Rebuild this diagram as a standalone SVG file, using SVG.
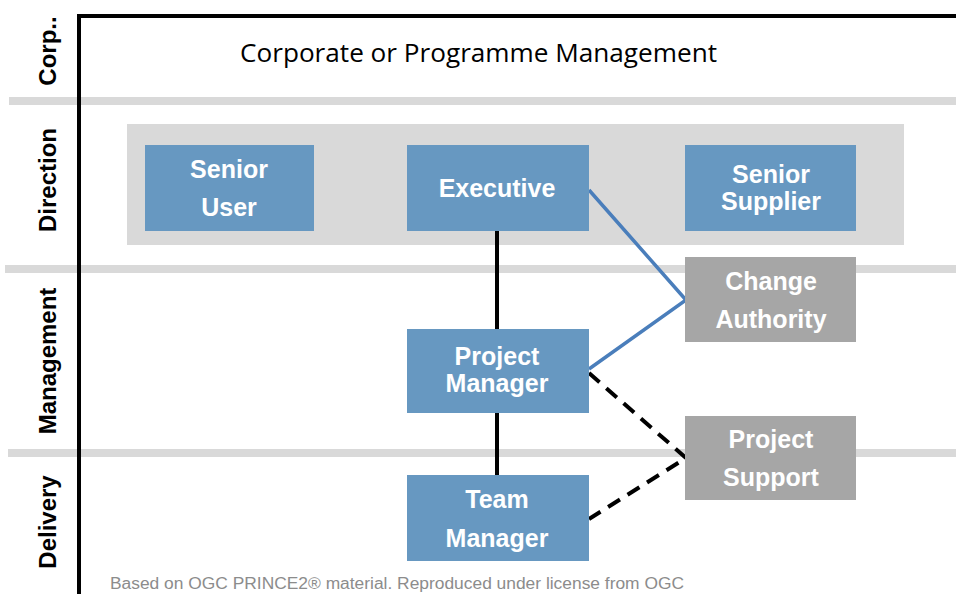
<svg xmlns="http://www.w3.org/2000/svg" width="956" height="594" viewBox="0 0 956 594">
<style>
.band{fill:#d9d9d9}
.blue{fill:#6798c1}
.grey{fill:#a6a6a6}
.bt{font-family:"Liberation Sans",Arial,sans-serif;font-weight:bold;font-size:25px;fill:#fff;text-anchor:middle}
.lane{font-family:"Liberation Sans",Arial,sans-serif;font-weight:bold;font-size:24px;fill:#000;text-anchor:middle}
</style>
<rect width="956" height="594" fill="#fff"/>
<g id="bands">
<rect class="band" x="9" y="97" width="947" height="8"/>
<rect class="band" x="5" y="265" width="951" height="8"/>
<rect class="band" x="8" y="449" width="948" height="8"/>
</g>
<g id="frame">
<path d="M79 594 V16 H956" fill="none" stroke="#000" stroke-width="4"/>
</g>
<g id="lanes">
<text class="lane" transform="translate(56,51) rotate(-90)">Corp..</text>
<text class="lane" transform="translate(56,180) rotate(-90)">Direction</text>
<text class="lane" transform="translate(56,361) rotate(-90)">Management</text>
<text class="lane" transform="translate(56,522) rotate(-90)">Delivery</text>
</g>
<text x="240" y="62" font-family="'Open Sans','Liberation Sans',Arial,sans-serif" font-size="25" textLength="477" lengthAdjust="spacingAndGlyphs" fill="#000">Corporate or Programme Management</text>
<rect id="direction-area" class="band" x="127" y="124" width="777" height="121"/>
<g id="connectors">
<line x1="497" y1="231" x2="497" y2="329" stroke="#000" stroke-width="4"/>
<line x1="497" y1="413" x2="497" y2="476" stroke="#000" stroke-width="4"/>
<polyline points="589,190 686,300 589,369" fill="none" stroke="#4a7ebb" stroke-width="3.5"/>
<polyline points="589,373 686,458 589,519" fill="none" stroke="#000" stroke-width="4" stroke-dasharray="14,9"/>
</g>
<g id="senior-user">
<rect class="blue" x="145" y="145" width="169" height="86"/>
<text class="bt" x="229" y="178">Senior</text>
<text class="bt" x="229" y="216">User</text>
</g>
<g id="executive">
<rect class="blue" x="407" y="145" width="182" height="86"/>
<text class="bt" x="497" y="197">Executive</text>
</g>
<g id="senior-supplier">
<rect class="blue" x="685" y="145" width="171" height="86"/>
<text class="bt" x="771" y="183">Senior</text>
<text class="bt" x="771" y="210">Supplier</text>
</g>
<g id="change-authority">
<rect class="grey" x="685" y="257" width="171" height="85"/>
<text class="bt" x="771" y="290">Change</text>
<text class="bt" x="771" y="328">Authority</text>
</g>
<g id="project-manager">
<rect class="blue" x="407" y="329" width="182" height="84"/>
<text class="bt" x="497" y="365">Project</text>
<text class="bt" x="497" y="392">Manager</text>
</g>
<g id="project-support">
<rect class="grey" x="685" y="416" width="171" height="84"/>
<text class="bt" x="771" y="448">Project</text>
<text class="bt" x="771" y="486">Support</text>
</g>
<g id="team-manager">
<rect class="blue" x="407" y="475" width="182" height="86"/>
<text class="bt" x="497" y="508">Team</text>
<text class="bt" x="497" y="547">Manager</text>
</g>
<text x="110" y="589" font-family="'Liberation Sans',Arial,sans-serif" font-size="16" textLength="574" lengthAdjust="spacingAndGlyphs" fill="#8c8c8c">Based on OGC PRINCE2® material. Reproduced under license from OGC</text>
</svg>
